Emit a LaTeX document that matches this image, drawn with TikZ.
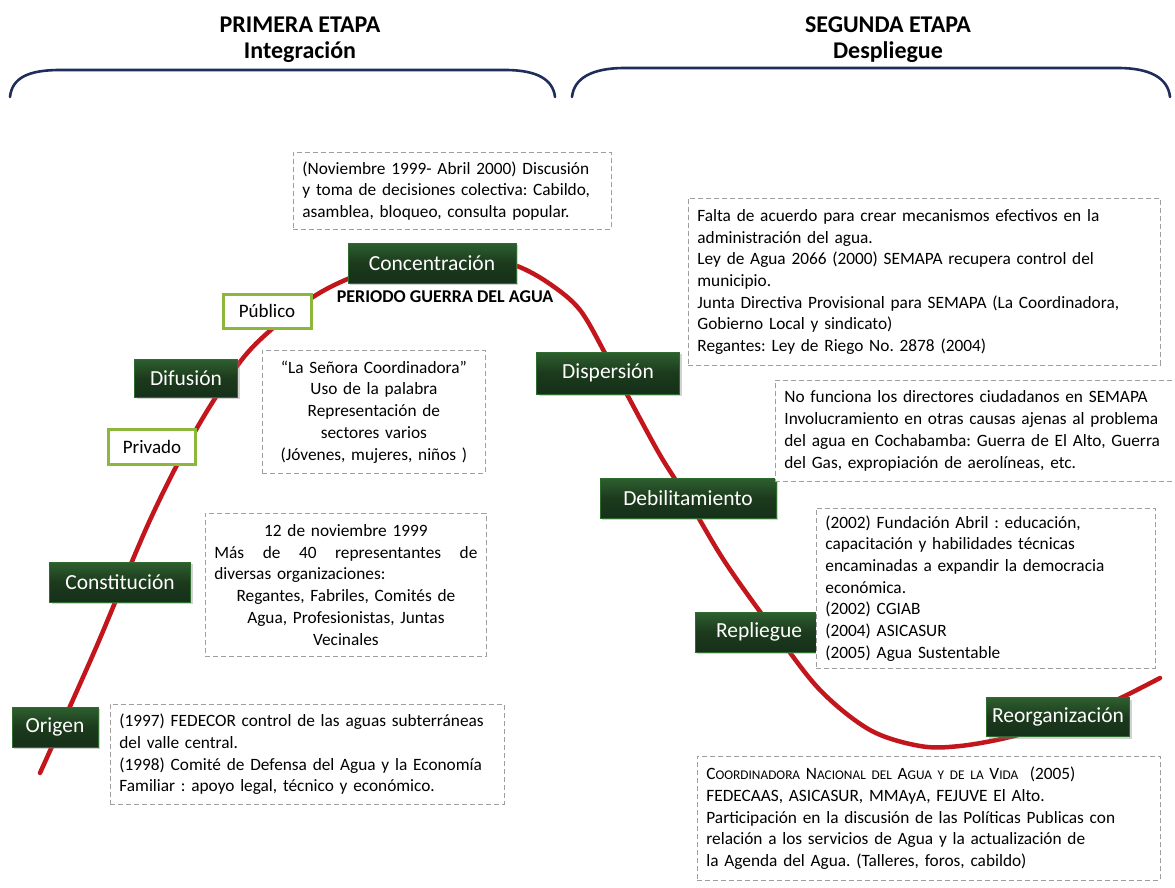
\documentclass[tikz,border=0pt]{standalone}
\usepackage{fontspec}
\setmainfont{Carlito}
\usetikzlibrary{shadows}
\definecolor{gdark}{HTML}{1C3A1C}
\definecolor{gtop}{HTML}{2E6030}
\definecolor{gbot}{HTML}{15301A}
\definecolor{gedge}{HTML}{2F6A2F}
\definecolor{gline}{HTML}{8CB63C}
\definecolor{redc}{HTML}{C3161C}
\definecolor{navy}{HTML}{1F2D5A}
\newcommand{\fsc}[2]{#1{\fontsize{13.3}{16}\selectfont #2}}
\newcommand{\fline}[1]{\leavevmode\hbox to \linewidth{#1}}
\tikzset{
  gbox/.style={top color=gtop, bottom color=gbot, middle color=gdark, draw=gedge, line width=0.8pt, text=white,
    font=\fontsize{21.5}{24}\selectfont, inner sep=0pt,
    drop shadow={opacity=0.35, shadow xshift=2pt, shadow yshift=-2pt}},
  wbox/.style={fill=white, draw=gline, line width=3pt, text=black,
    font=\fontsize{19}{22}\selectfont, inner sep=0pt},
  note/.style={fill=white, draw=gray!75, dash pattern=on 5pt off 3pt, line width=0.8pt,
    font=\frenchspacing\fontsize{17.3}{21.7}\selectfont, anchor=north west, inner xsep=9pt, inner ysep=6pt},
  ttl/.style={font=\bfseries\fontsize{24}{27}\selectfont},
  brace/.style={draw=navy, line width=2.6pt, line cap=round}
}
\begin{document}
\begin{tikzpicture}[x=1pt,y=-1pt]
\useasboundingbox[fill=white] (0,0) rectangle (1175,888);
% titles
\node[ttl] (t1) at (300,25) {PRIMERA ETAPA};
\node[ttl] (t1b) at (300,52) {Integración};
\node[ttl] (t2) at (888,25) {SEGUNDA ETAPA};
\node[ttl] (t2b) at (888,52) {Despliegue};
% braces
\draw[brace] (10,97) .. controls (12,78) and (28,70) .. (60,70) -- (505,70) .. controls (538,70) and (553,80) .. (555,97);
\draw[brace] (572,97) .. controls (574,78) and (592,68) .. (625,68) -- (1118,68) .. controls (1150,68) and (1168,78) .. (1170,97);
% curve
\draw[redc, line width=4.5pt, line cap=round] plot[smooth, tension=0.55] coordinates {
(40,773) (95,650) (150,520) (197,428) (240,362) (273,328) (313,297) (350,278)
(400,261) (440,256) (480,258) (517,266) (550,284) (580,310) (606,355) (630,400) (660,455)
(687,498) (725,562) (775,632) (820,690) (870,730) (920,746) (960,746)
(1010,737) (1060,722) (1110,703) (1160,678)};
% green stage boxes
\node[gbox, minimum width=168pt, minimum height=40pt] (conc) at (432,263) {Concentración};
\node[gbox, minimum width=103pt, minimum height=38pt] (dif) at (186,378) {Difusión};
\node[gbox, minimum width=141pt, minimum height=40pt] (const) at (120,582) {Constitución};
\node[gbox, minimum width=86pt, minimum height=40pt] (orig) at (55,727) {Origen};
\node[gbox, minimum width=143pt, minimum height=42pt] (disp) at (608,373) {Dispersión};
\node[gbox, minimum width=176pt, minimum height=40pt] (deb) at (688,498) {Debilitamiento};
\node[gbox, minimum width=128pt, minimum height=40pt] (repl) at (759,632) {Repliegue};
\node[gbox, minimum width=143pt, minimum height=39pt] (reorg) at (1058,717) {Reorganización};
% green framed
\node[wbox, minimum width=88pt, minimum height=34pt] (pub) at (267,311) {Público};
\node[wbox, minimum width=87pt, minimum height=35pt] (priv) at (152,447) {Privado};
% label
\node[font=\bfseries\fontsize{18}{20}\selectfont] (per) at (445,297) {PERIODO GUERRA DEL AGUA};
% notes
\node[note, text width=300pt, minimum height=77pt, align=left] (n1) at (293,152)
{(Noviembre 1999- Abril 2000) Discusión\\y toma de decisiones colectiva: Cabildo,\\asamblea, bloqueo, consulta popular.};
\node[note, text width=205pt, minimum height=123pt, align=center] (n2) at (262,350)
{“La Señora Coordinadora”\\Uso de la palabra\\Representación de\\sectores varios\\(Jóvenes, mujeres, niños )};
\node[note, text width=263pt, minimum height=143pt, align=center] (n3) at (205,513)
{12 de noviembre 1999\\
\fline{Más\hfill de\hfill 40\hfill representantes\hfill de}\\
\fline{diversas organizaciones:\hfill}\\
Regantes, Fabriles, Comités de\\Agua, Profesionistas, Juntas\\Vecinales};
\node[note, text width=376pt, minimum height=100pt, align=left] (n4) at (110,704)
{(1997) FEDECOR control de las aguas subterráneas\\del valle central.\\(1998) Comité de Defensa del Agua y la Economía\\Familiar : apoyo legal, técnico y económico.};
\node[note, text width=454pt, minimum height=167pt, align=left] (n5) at (688,198)
{Falta de acuerdo para crear mecanismos efectivos en la\\administración del agua.\\Ley de Agua 2066 (2000) SEMAPA recupera control del\\municipio.\\Junta Directiva Provisional para SEMAPA (La Coordinadora,\\Gobierno Local y sindicato)\\Regantes: Ley de Riego No. 2878 (2004)};
\node[note, text width=382pt, minimum height=101pt, align=left] (n6) at (775,380)
{No funciona los directores ciudadanos en SEMAPA\\Involucramiento en otras causas ajenas al problema\\del agua en Cochabamba: Guerra de El Alto, Guerra\\del Gas, expropiación de aerolíneas, etc.};
\node[note, text width=321pt, minimum height=160pt, align=left] (n7) at (816,508)
{(2002) Fundación Abril : educación,\\capacitación y habilidades técnicas\\encaminadas a expandir la democracia\\económica.\\(2002) CGIAB\\(2004) ASICASUR\\(2005) Agua Sustentable};
\node[note, text width=445pt, minimum height=124pt, align=left] (n8) at (697,756)
{\fsc{C}{OORDINADORA} \fsc{N}{ACIONAL DEL} \fsc{A}{GUA Y DE LA} \fsc{V}{IDA}\ \ (2005)\\FEDECAAS, ASICASUR, MMAyA, FEJUVE El Alto.\\\leavevmode\hbox to 428pt{Participación en la discusión de las Políticas Publicas con}\\relación a los servicios de Agua y la actualización de\\la Agenda del Agua. (Talleres, foros, cabildo)};
\end{tikzpicture}
\end{document}
